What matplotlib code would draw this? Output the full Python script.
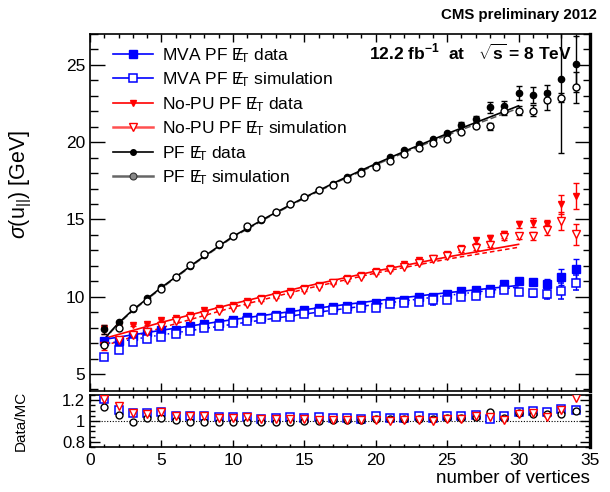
import numpy as np
import matplotlib
matplotlib.use("Agg")
import matplotlib.pyplot as plt
from matplotlib.ticker import MultipleLocator, FormatStrFormatter
from matplotlib.lines import Line2D

plt.rcParams['font.family'] = ['Liberation Sans', 'DejaVu Sans']
plt.rcParams['mathtext.fontset'] = 'custom'
plt.rcParams['mathtext.rm'] = 'Liberation Sans'
plt.rcParams['mathtext.it'] = 'Liberation Sans:italic'
plt.rcParams['mathtext.bf'] = 'Liberation Sans:bold'

# ---------------- data ----------------
nvtx = list(range(1, 35))

mva_data = [7.15, 7.11, 7.47, 7.69, 7.84, 7.86, 8.08, 8.23, 8.29, 8.50, 8.66, 8.72, 8.83, 9.02, 9.13, 9.24,
            9.34, 9.41, 9.45, 9.58, 9.73, 9.80, 10.01, 10.01, 10.16, 10.38, 10.42, 10.48, 10.85, 11.02,
            10.96, 10.85, 11.28, 11.82]
mva_data_err = [0.05]*26 + [0.08, 0.1, 0.15, 0.2, 0.2, 0.3, 0.5, 0.65]
mva_sim = [6.12, 6.55, 7.04, 7.26, 7.37, 7.56, 7.80, 7.95, 8.08, 8.27, 8.40, 8.59, 8.66, 8.72, 8.87, 9.02,
           9.15, 9.19, 9.26, 9.30, 9.52, 9.58, 9.67, 9.77, 9.80, 9.99, 10.05, 10.27, 10.42, 10.31,
           10.21, 10.16, 10.38, 10.91]
mva_sim_err = [0.05]*23 + [0.3, 0.08, 0.1, 0.1, 0.1, 0.15, 0.2, 0.25, 0.3, 0.5, 0.5]

nopu_data = [7.90, 8.23, 8.16, 8.25, 8.50, 8.61, 8.83, 9.15, 9.24, 9.49, 9.73, 9.95, 10.16, 10.38, 10.55, 10.76,
             10.96, 11.19, 11.41, 11.65, 11.86, 12.10, 12.35, 12.53, 12.74, 13.13, 13.65, 13.82, 14.03, 14.68,
             14.78, 14.68, 15.97, 16.51]
nopu_data_err = [0.3] + [0.05]*24 + [0.1, 0.15, 0.2, 0.2, 0.25, 0.3, 0.3, 0.6, 0.85]
nopu_sim = [6.78, 7.20, 7.55, 7.75, 8.10, 8.40, 8.65, 8.85, 9.10, 9.30, 9.50, 9.78, 10.00, 10.20, 10.42, 10.66,
            10.87, 11.09, 11.30, 11.52, 11.73, 11.95, 12.20, 12.42, 12.63, 13.02, 13.13, 13.34, 13.88, 13.92,
            13.92, 14.31, 14.89, 14.03]
nopu_sim_err = [0.25] + [0.05]*24 + [0.1, 0.1, 0.15, 0.2, 0.2, 0.25, 0.3, 0.6, 0.7]

pf_data = [7.90, 8.34, 9.19, 9.95, 10.63, 11.30, 11.99, 12.68, 13.32, 13.90, 14.46, 14.96, 15.47, 15.97, 16.44,
           16.89, 17.32, 17.75, 18.12, 18.55, 19.04, 19.47, 19.88, 20.21, 20.59, 21.13, 21.52, 22.27, 22.31,
           23.21, 23.04, 23.17, 24.08, 25.06]
pf_data_err = [0.3] + [0.05]*23 + [0.1, 0.15, 0.2, 0.35, 0.35, 0.45, 0.52, 0.55, 4.8, 1.8]
pf_sim = [6.90, 7.95, 9.25, 9.75, 10.50, 11.25, 12.05, 12.75, 13.40, 13.95, 14.55, 15.02, 15.50, 16.00, 16.45,
          16.88, 17.25, 17.65, 18.00, 18.40, 18.81, 19.26, 19.62, 19.95, 20.23, 20.63, 21.06, 21.02, 22.03,
          22.03, 22.03, 22.70, 22.89, 23.56]
pf_sim_err = [0.05]*25 + [0.1, 0.15, 0.2, 0.3, 0.3, 0.35, 0.6, 0.3, 1.0]

# fitted curves
fit_x = [1, 5, 10, 15, 20, 25, 30]
mva_data_fit = [7.24, 7.83, 8.52, 9.16, 9.74, 10.26, 10.73]
mva_sim_fit = [6.95, 7.53, 8.22, 8.88, 9.50, 10.08, 10.63]
nopu_data_fit = [7.30, 8.34, 9.54, 10.65, 11.66, 12.57, 13.39]
nopu_sim_fit = [6.83, 7.99, 9.31, 10.49, 11.53, 12.43, 13.20]
pf_fit_x = [1, 1.5, 2, 3, 5, 7.5, 10, 12.5, 15, 17.5, 20, 22.5, 25, 27.5, 30]
pf_data_fit = [7.25, 7.8, 8.3, 9.15, 10.6, 12.3, 13.9, 15.2, 16.42, 17.55, 18.6, 19.6, 20.55, 21.45, 22.35]
pf_sim_fit = [7.2, 7.75, 8.25, 9.1, 10.55, 12.25, 13.85, 15.15, 16.37, 17.5, 18.53, 19.52, 20.45, 21.33, 22.2]

# Data/MC ratios
ratio_mva = [1.213, 1.108, 1.076, 1.076, 1.086, 1.051, 1.051, 1.051, 1.035, 1.035, 1.038, 1.022, 1.025, 1.038,
             1.029, 1.038, 1.029, 1.029, 1.022, 1.044, 1.029, 1.029, 1.044, 1.029, 1.051, 1.051, 1.054, 1.019,
             1.051, 1.086, 1.092, 1.083, 1.114, 1.108]
ratio_nopu = [1.213, 1.14, 1.076, 1.07, 1.083, 1.044, 1.044, 1.044, 1.029, 1.029, 1.035, 1.022, 1.019, 1.022,
              1.019, 1.013, 1.013, 1.013, 1.006, 1.006, 0.997, 1.006, 1.006, 0.997, 1.019, 1.022, 1.044, 1.038,
              1.013, 1.07, 1.076, 1.038, 1.108, 1.222]
ratio_pf = [1.133, 1.057, 0.994, 1.029, 1.029, 1.006, 0.994, 0.994, 0.99, 0.99, 0.99, 0.994, 0.994, 0.994,
            0.997, 1.0, 1.006, 1.013, 1.013, 1.019, 1.019, 1.019, 1.019, 1.019, 1.029, 1.029, 1.038, 1.083,
            1.029, 1.076, 1.07, 1.07, 1.07, 1.092]

met = r'$\mathrm{E}\!\!\!/_{\mathrm{T}}$'
labels = ['MVA PF ' + met + ' data', 'MVA PF ' + met + ' simulation',
          'No-PU PF ' + met + ' data', 'No-PU PF ' + met + ' simulation',
          'PF ' + met + ' data', 'PF ' + met + ' simulation']

# ---------------- figure ----------------
fig = plt.figure(figsize=(6.10, 4.92), dpi=100)
W, H = 610.0, 492.0
L, R = 90 / W, 590 / W
ax = fig.add_axes([L, 1 - 391 / H, R - L, (391 - 34) / H])
axr = fig.add_axes([L, 1 - 447 / H, R - L, (447 - 395) / H])

BLUE = '#0000ff'
RED = '#ff0000'

# fits
ax.plot(pf_fit_x, pf_sim_fit, color='#555555', lw=1.1, ls=(0, (4, 2)), zorder=2)
ax.plot(pf_fit_x, pf_data_fit, color='black', lw=1.2, zorder=2)
ax.plot(fit_x, nopu_sim_fit, color=RED, lw=1.1, ls=(0, (3, 2)), zorder=2)
ax.plot(fit_x, nopu_data_fit, color=RED, lw=1.2, zorder=2)
ax.plot(fit_x, mva_sim_fit, color=BLUE, lw=1.1, ls=(0, (4, 2, 1, 2)), zorder=2)
ax.plot(fit_x, mva_data_fit, color=BLUE, lw=1.2, zorder=2)

ekw = dict(ls='none', capsize=2.2, elinewidth=1.0, capthick=1.0, zorder=3)
ax.errorbar(nvtx, mva_data, yerr=mva_data_err, fmt='s', ms=6.2, color=BLUE, mfc=BLUE, mec=BLUE, **ekw)
ax.errorbar(nvtx, mva_sim, yerr=mva_sim_err, fmt='s', ms=6.2, color=BLUE, mfc='white', mec=BLUE, mew=1.1, **ekw)
ax.errorbar(nvtx, nopu_data, yerr=nopu_data_err, fmt='v', ms=5.0, color=RED, mfc=RED, mec=RED, **ekw)
ax.errorbar(nvtx, nopu_sim, yerr=nopu_sim_err, fmt='v', ms=5.5, color=RED, mfc='white', mec=RED, mew=1.0, **ekw)
ax.errorbar(nvtx, pf_data, yerr=pf_data_err, fmt='o', ms=4.5, color='black', mfc='black', mec='black', **ekw)
ax.errorbar(nvtx, pf_sim, yerr=pf_sim_err, fmt='o', ms=5.0, color='black', mfc='white', mec='black', mew=1.0, **ekw)

ax.set_xlim(0, 35)
ax.set_ylim(3.9, 27.0)

# legend
leg_handles = [
    Line2D([], [], color=BLUE, lw=1.2, marker='s', ms=6.2, mfc=BLUE, mec=BLUE),
    Line2D([], [], color=BLUE, lw=1.2, marker='s', ms=5.5, mfc='white', mec=BLUE, mew=1.1),
    Line2D([], [], color=RED, lw=1.2, marker='v', ms=4.0, mfc=RED, mec=RED),
    Line2D([], [], color='#ff5050', lw=1.8, marker='v', ms=5.5, mfc='white', mec=RED, mew=1.0),
    Line2D([], [], color='black', lw=1.2, marker='o', ms=4.0, mfc='black', mec='black'),
    Line2D([], [], color='#666666', lw=1.8, marker='o', ms=5.0, mfc='#888888', mec='#333333', mew=0.8),
]
ax.legend(leg_handles, labels, loc='upper left', bbox_to_anchor=(0.046, 0.966), frameon=False,
          fontsize=12.5, handlelength=2.3, handletextpad=0.55, labelspacing=0.33,
          borderaxespad=0.0, borderpad=0.0, numpoints=1)

ax.text(0.964, 0.975, r'12.2 fb$^{\mathbf{-1}}$  at   $\sqrt{\mathbf{s}}$ = 8 TeV', transform=ax.transAxes,
        ha='right', va='top', fontsize=12.5, fontweight='bold')
fig.text(597 / W, 1 - 15 / H, 'CMS preliminary 2012', ha='right', va='center', fontsize=10.8, fontweight='bold')

ax.set_ylabel(r'$\sigma$(u$_{||}$) [GeV]', fontsize=15.5)
ax.yaxis.set_label_coords(-0.112, 0.58)

# ratio
axr.axhline(1.0, color='black', lw=0.8, ls=(0, (1, 1.5)), zorder=1)
axr.plot(nvtx, ratio_mva, ls='none', marker='s', ms=6.2, mfc='white', mec=BLUE, mew=1.1, zorder=3)
axr.plot(nvtx, ratio_pf, ls='none', marker='o', ms=5.0, mfc='white', mec='black', mew=1.0, zorder=3)
axr.plot(nvtx, ratio_nopu, ls='none', marker='v', ms=5.5, mfc='white', mec=RED, mew=1.0, zorder=4)
axr.set_xlim(0, 35)
axr.set_ylim(0.75, 1.25)
axr.set_ylabel('Data/MC', fontsize=11)
axr.yaxis.set_label_coords(-0.125, 0.5)
axr.set_xlabel('number of vertices', fontsize=13.5, ha='right', x=1.0, labelpad=2)

# ticks / frame
for a in (ax, axr):
    a.tick_params(which='both', direction='in', top=True, right=True, labelsize=12.5, width=1.0)
    a.xaxis.set_major_locator(MultipleLocator(5))
    a.xaxis.set_minor_locator(MultipleLocator(1))
    for s in a.spines.values():
        s.set_linewidth(1.2)
    a.spines['right'].set_linewidth(2.4)

ax.yaxis.set_major_locator(MultipleLocator(5))
ax.yaxis.set_minor_locator(MultipleLocator(1))
ax.tick_params(axis='y', which='major', length=10.5)
ax.tick_params(axis='y', which='minor', length=5.4)
ax.tick_params(axis='x', which='major', length=6.0)
ax.tick_params(axis='x', which='minor', length=3.0)
ax.tick_params(axis='x', labelbottom=False)

axr.yaxis.set_major_locator(MultipleLocator(0.2))
axr.yaxis.set_minor_locator(MultipleLocator(0.05))
axr.yaxis.set_major_formatter(FormatStrFormatter('%g'))
axr.tick_params(axis='y', which='major', length=7, labelsize=12)
axr.tick_params(axis='y', which='minor', length=3.5)
axr.tick_params(axis='x', which='major', length=5)
axr.tick_params(axis='x', which='minor', length=2.5)
axr.tick_params(axis='x', pad=4)

fig.savefig('out.png', dpi=100)
